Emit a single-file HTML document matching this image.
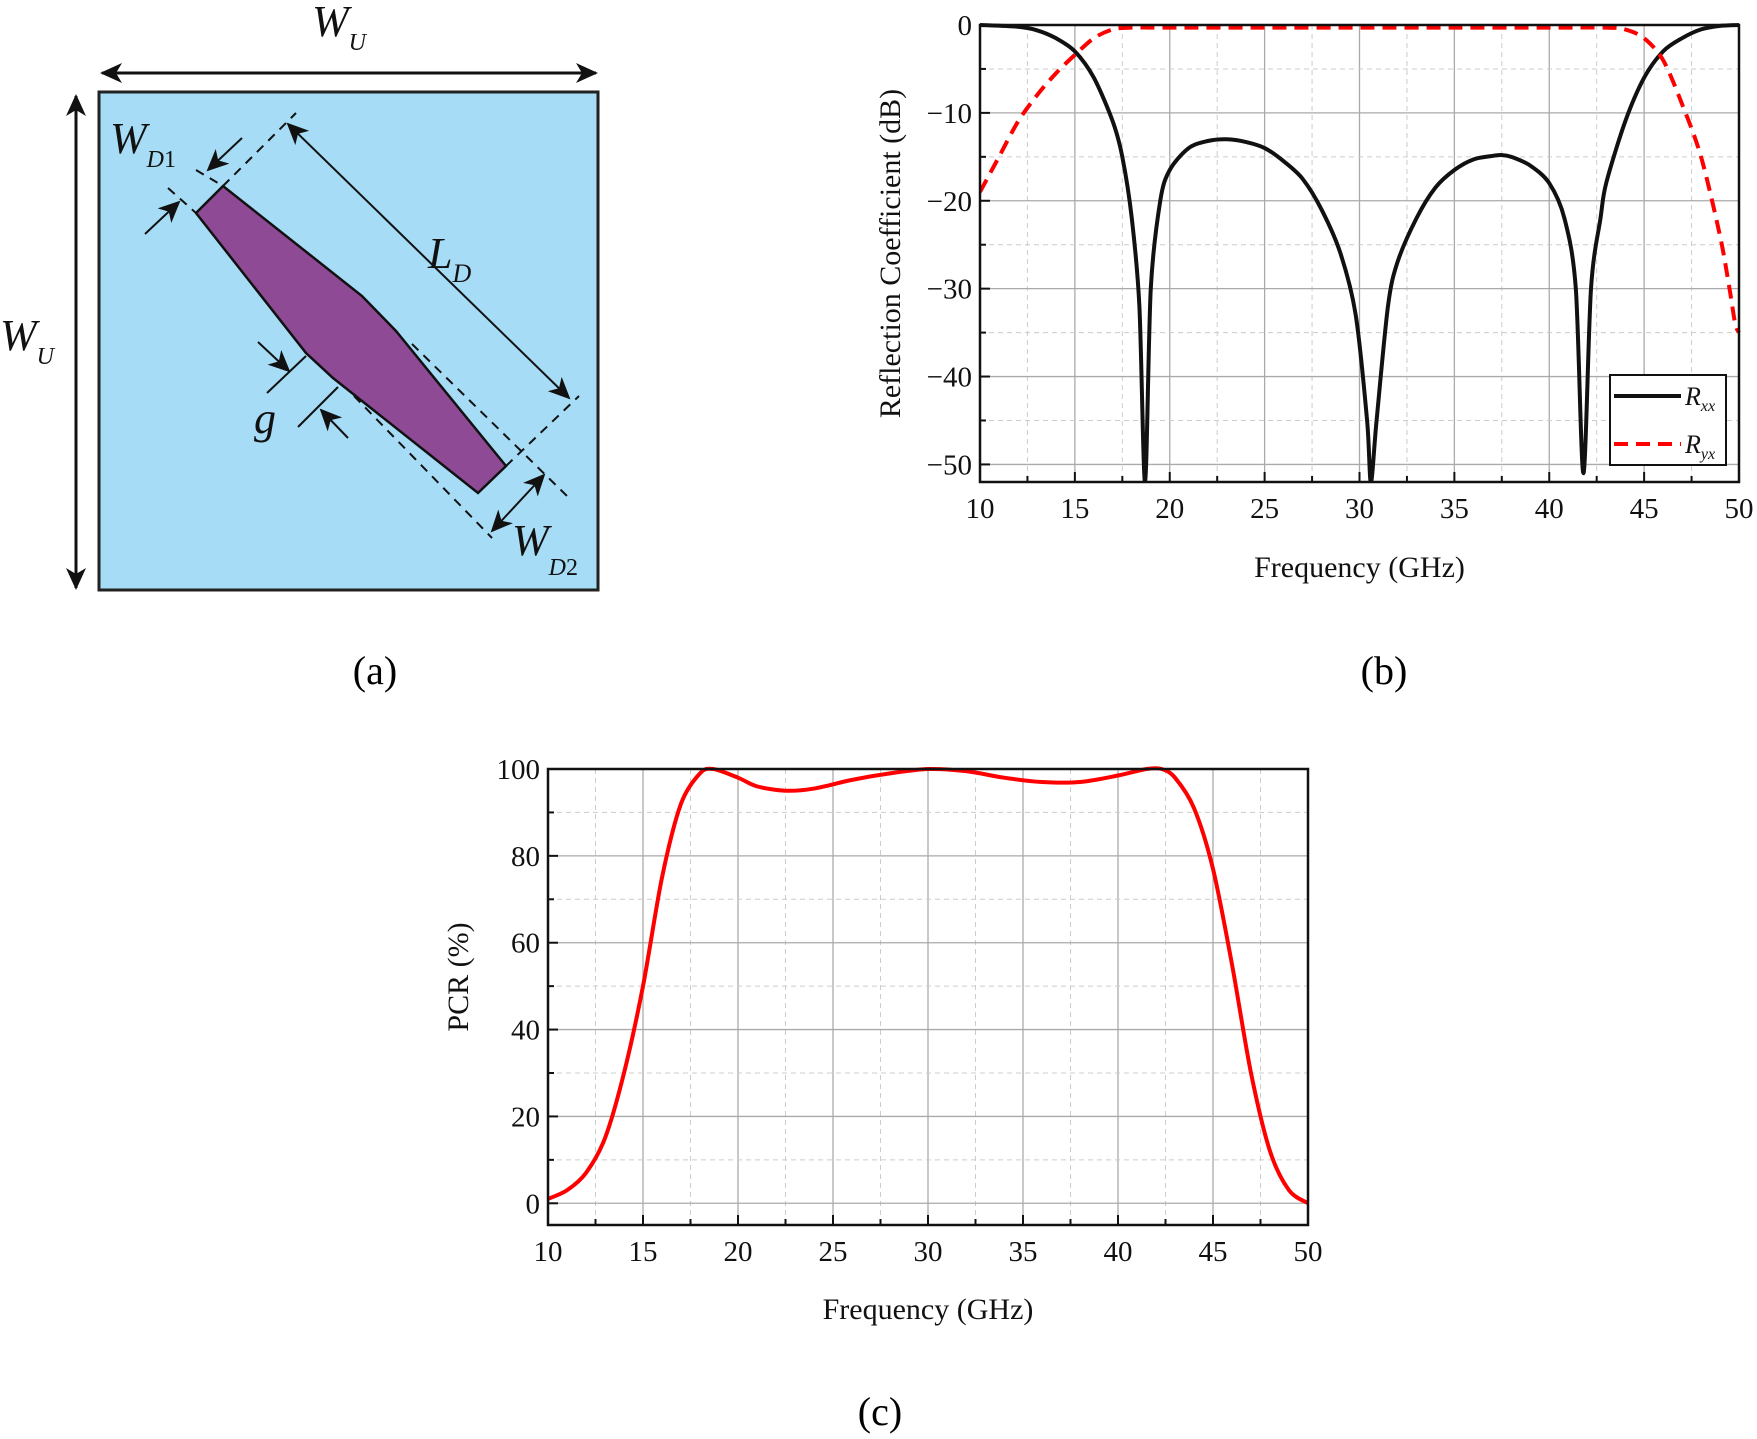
<!DOCTYPE html>
<html><head><meta charset="utf-8"><style>
html,body{margin:0;padding:0;background:#fff;}
svg{display:block;font-family:"Liberation Serif",serif;}
</style></head><body>
<svg width="1757" height="1439" viewBox="0 0 1757 1439" xmlns="http://www.w3.org/2000/svg">
<defs>
<marker id="ah" markerWidth="22" markerHeight="20" refX="20" refY="10" orient="auto-start-reverse" markerUnits="userSpaceOnUse" viewBox="0 0 22 20"><path d="M0,0 L22,10 L0,20 L6,10 z" fill="#111"/></marker>
</defs>
<g id="panel-a">
 <rect x="99" y="92" width="499" height="498" fill="#a6dcf6" stroke="#222" stroke-width="3"/>
 <polygon points="196,213 223,186 362,296 396,331 506,466 478,493 333,378 306,353" fill="#8e4a94" stroke="#111" stroke-width="2.5"/>
 <g stroke="#111" stroke-width="2" fill="none">
  <line x1="102" y1="73" x2="596" y2="73" marker-start="url(#ah)" marker-end="url(#ah)" stroke-width="3"/>
  <line x1="76" y1="96" x2="76" y2="588" marker-start="url(#ah)" marker-end="url(#ah)" stroke-width="3"/>
  <line x1="288" y1="124" x2="569" y2="398" marker-start="url(#ah)" marker-end="url(#ah)"/>
  <g stroke-dasharray="9,7">
   <line x1="223" y1="186" x2="296" y2="113"/>
   <line x1="506" y1="466" x2="579" y2="396"/>
   <line x1="412" y1="344" x2="567" y2="496"/>
   <line x1="354" y1="396" x2="492" y2="538"/>
   <line x1="168" y1="188" x2="196" y2="213"/>
   <line x1="196" y1="170" x2="223" y2="186"/>
  </g>
  <line x1="242" y1="138" x2="208" y2="170" marker-end="url(#ah)"/>
  <line x1="145" y1="234" x2="179" y2="202" marker-end="url(#ah)"/>
  <line x1="258" y1="342" x2="289" y2="371" marker-end="url(#ah)"/>
  <line x1="267" y1="393" x2="306" y2="356"/>
  <line x1="348" y1="438" x2="321" y2="410" marker-end="url(#ah)"/>
  <line x1="298" y1="427" x2="338" y2="387"/>
  <line x1="544" y1="475" x2="492" y2="531" marker-start="url(#ah)" marker-end="url(#ah)"/>
 </g>
 <g font-style="italic" fill="#111">
  <text x="312" y="36" font-size="44">W<tspan font-size="24" dy="14">U</tspan></text>
  <text x="0" y="350" font-size="44">W<tspan font-size="24" dy="14">U</tspan></text>
  <text x="110" y="153" font-size="44">W<tspan font-size="24" dy="14">D</tspan><tspan font-style="normal" font-size="24">1</tspan></text>
  <text x="428" y="268" font-size="44">L<tspan font-size="26" dy="14">D</tspan></text>
  <text x="254" y="433" font-size="44">g</text>
  <text x="512" y="555" font-size="44">W<tspan font-size="24" dy="20">D</tspan><tspan font-style="normal" font-size="24">2</tspan></text>
 </g>
</g>
<text x="375" y="684" font-size="40" text-anchor="middle">(a)</text>
<text x="1384" y="684" font-size="40" text-anchor="middle">(b)</text>
<text x="880" y="1425" font-size="40" text-anchor="middle">(c)</text>
<g id="chartB"></g>
<g id="chartC"></g>
</svg>
<script>
const freqRxx=[10,12,13,14,15,16,17,17.5,18,18.4,18.7,19.0,19.5,20,21,22,23,24,25,26,27,28,29,29.8,30.4,30.6,30.9,31.5,32,33,34,35,36,37,37.5,38,39,40,40.8,41.4,41.8,42.2,42.7,43,44,45,46,47,48,49,50];
const valRxx=[0,-0.2,-0.6,-1.5,-3,-6,-11,-15,-22,-32,-52,-30,-20,-16.5,-14,-13.2,-13,-13.3,-14,-15.5,-17.5,-21,-26,-33,-45,-52,-45,-32,-27,-22,-18.5,-16.5,-15.3,-14.9,-14.8,-15,-16,-18,-22,-30,-51,-30,-22,-18,-11,-6,-3,-1.5,-0.5,-0.1,0];
const freqRyx=[10,11,12,13,14,15,16,17,18,20,25,30,35,40,43,44,45,46,47,48,49,49.5,49.8,50];
const valRyx=[-19,-15,-11,-8,-5.5,-3.4,-1.5,-0.5,-0.3,-0.3,-0.3,-0.3,-0.3,-0.3,-0.3,-0.5,-1.5,-4,-9,-15,-24,-30,-34,-35];
const freqPcr=[10,11,12,13,14,15,16,17,18,18.7,20,21,22.5,24,26,28,30,32,34,36,38,40,41.5,42.3,43,44,45,46,47,48,49,50];
const valPcr=[1,3,7,15,30,50,75,92,99,100,98,96,95,95.5,97.5,99,100,99.5,98,97,97,98.5,100,100,98,91,77,55,30,12,3,0];
const xTicks=[10,15,20,25,30,35,40,45,50];
const yTicksB=[0,-10,-20,-30,-40,-50];
const yTicksC=[0,20,40,60,80,100];
const NS="http://www.w3.org/2000/svg";
function mk(parent,tag,attrs,text){const e=document.createElementNS(NS,tag);for(const k in attrs)e.setAttribute(k,attrs[k]);if(text!==undefined)e.textContent=text;parent.appendChild(e);return e;}
function smooth(pts){let d="M"+pts[0][0]+","+pts[0][1];for(let i=0;i<pts.length-1;i++){const p0=pts[Math.max(i-1,0)],p1=pts[i],p2=pts[i+1],p3=pts[Math.min(i+2,pts.length-1)];const t=0.15;d+=" C"+(p1[0]+(p2[0]-p0[0])*t)+","+(p1[1]+(p2[1]-p0[1])*t)+" "+(p2[0]-(p3[0]-p1[0])*t)+","+(p2[1]-(p3[1]-p1[1])*t)+" "+p2[0]+","+p2[1];}return d;}
function axes(g,L,R,T,B,xmin,xmax,ymin,ymax,yt,ystep){
 const sx=v=>L+(v-xmin)/(xmax-xmin)*(R-L), sy=v=>T+(ymax-v)/(ymax-ymin)*(B-T);
 for(let v=xmin;v<=xmax;v+=2.5){const x=sx(v);const major=(v%5===0);const l=mk(g,'line',{x1:x,x2:x,y1:T,y2:B,stroke:major?'#aaa':'#ccc','stroke-width':major?1.3:1,'stroke-dasharray':major?'':'5,4'});}
 for(let v=Math.ceil(ymin/ystep)*ystep;v<=ymax;v+=ystep){const y=sy(v);const major=(Math.round(v/ystep)%2===0);const l=mk(g,'line',{x1:L,x2:R,y1:y,y2:y,stroke:major?'#aaa':'#ccc','stroke-width':major?1.3:1,'stroke-dasharray':major?'':'5,4'});
  const tk=mk(g,'line',{x1:L,x2:L+(major?10:6),y1:y,y2:y,stroke:'#111','stroke-width':2});}
 for(let v=xmin;v<=xmax;v+=2.5){const x=sx(v);const major=(v%5===0);const tk=mk(g,'line',{x1:x,x2:x,y1:B,y2:B-(major?10:6),stroke:'#111','stroke-width':2});}
 xTicks.forEach(v=>{const t=mk(g,'text',{x:sx(v),y:B+36,'font-size':29,'text-anchor':'middle',fill:'#111'},String(v));});
 yt.forEach(v=>{const t=mk(g,'text',{x:L-8,y:sy(v)+10,'font-size':29,'text-anchor':'end',fill:'#111'},v<0?'\u2212'+(-v):String(v));});
 return {sx,sy};
}
function frame(g,L,R,T,B){const f=mk(g,'rect',{x:L,y:T,width:R-L,height:B-T,fill:'none',stroke:'#111','stroke-width':2.5});}
(function(){
 const g=document.getElementById('chartB');const L=980,R=1739,T=25,B=482;
 const {sx,sy}=axes(g,L,R,T,B,10,50,-52,0,yTicksB,5);
 const cp=mk(g,'clipPath',{id:'clipB'});mk(cp,'rect',{x:L,y:T-4,width:R-L+2,height:B-T+4});
 const p1=mk(g,'path',{d:smooth(freqRxx.map((f,i)=>[sx(f),sy(valRxx[i])])),fill:'none',stroke:'#111','stroke-width':4,'clip-path':'url(#clipB)'});
 
 const p2=mk(g,'path',{d:smooth(freqRyx.map((f,i)=>[sx(f),sy(valRyx[i])])),fill:'none',stroke:'#f00','stroke-width':4,'stroke-dasharray':'14,8','clip-path':'url(#clipB)'});
 
 frame(g,L,R,T,B);
 const yt=mk(g,'text',{x:0,y:0,'font-size':30,'text-anchor':'middle',fill:'#111',transform:'translate(900,'+((T+B)/2)+') rotate(-90)'},'Reflection Coefficient (dB)');
 
 const xt=mk(g,'text',{x:(L+R)/2,y:577,'font-size':30,'text-anchor':'middle',fill:'#111'},'Frequency (GHz)');
 
 const lg=mk(g,'g',{});
 mk(lg,'rect',{x:1610,y:375,width:116,height:90,fill:'#fff',stroke:'#111','stroke-width':2});
 const e1=mk(lg,'line',{x1:1614,x2:1681,y1:396,y2:396,stroke:'#111','stroke-width':4});
 const e2=mk(lg,'line',{x1:1614,x2:1681,y1:444,y2:444,stroke:'#f00','stroke-width':4,'stroke-dasharray':'14,8'});
 const t1=mk(lg,'text',{x:1685,y:405,'font-size':26,'font-style':'italic',fill:'#111'});t1.innerHTML='R<tspan font-size="16" dy="6">xx</tspan>';
 const t2=mk(lg,'text',{x:1685,y:453,'font-size':26,'font-style':'italic',fill:'#111'});t2.innerHTML='R<tspan font-size="16" dy="6">yx</tspan>';
})();
(function(){
 const g=document.getElementById('chartC');const L=548,R=1308,T=769,B=1225;
 const {sx,sy}=axes(g,L,R,T,B,10,50,-5,100,yTicksC,10);
 const p=mk(g,'path',{d:smooth(freqPcr.map((f,i)=>[sx(f),sy(valPcr[i])])),fill:'none',stroke:'#f00','stroke-width':4});
 
 frame(g,L,R,T,B);
 const yt=mk(g,'text',{x:0,y:0,'font-size':30,'text-anchor':'middle',fill:'#111',transform:'translate(468,'+((T+B)/2-20)+') rotate(-90)'},'PCR (%)');
 
 const xt=mk(g,'text',{x:(L+R)/2,y:1319,'font-size':30,'text-anchor':'middle',fill:'#111'},'Frequency (GHz)');
 
})();
</script>
</body></html>
